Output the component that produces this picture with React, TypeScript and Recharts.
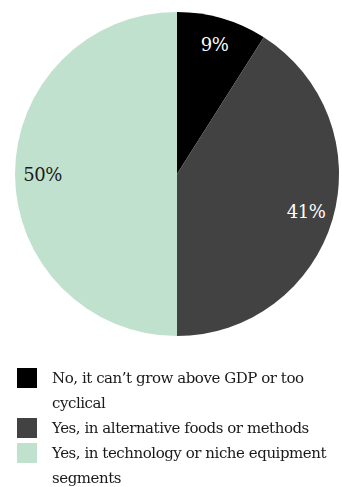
import React from 'react';
import { PieChart, Pie, Cell, Legend } from 'recharts';

const categories = [
  'No, it can\u2019t grow above GDP or too cyclical',
  'Yes, in alternative foods or methods',
  'Yes, in technology or niche equipment segments',
];
const shares = [9, 41, 50];
const colors = ['#000000', '#424242', '#c1e1cf'];
const labelColors = ['#ffffff', '#ffffff', '#1a1a1a'];

const data = categories.map((name, i) => ({ name, value: shares[i] }));

const FONT = "'DejaVu Serif'";
const RAD = Math.PI / 180;

const renderLabel = (props: any) => {
  const { cx, cy, midAngle, outerRadius, value, index } = props;
  const r = outerRadius * 0.83;
  const x = cx + r * Math.cos(-midAngle * RAD);
  const y = cy + r * Math.sin(-midAngle * RAD);
  return (
    <text
      x={x}
      y={y}
      fill={labelColors[index]}
      textAnchor="middle"
      dominantBaseline="central"
      style={{ fontFamily: FONT, fontSize: 18, letterSpacing: -0.5 }}
    >
      {`${value}%`}
    </text>
  );
};

const LegendList = () => (
  <div
    style={{
      fontFamily: FONT,
      fontSize: 15,
      letterSpacing: -0.45,
      lineHeight: '25px',
      color: '#1a1a1a',
    }}
  >
    {categories.map((c, i) => (
      <div key={c} style={{ display: 'flex', alignItems: 'flex-start' }}>
        <span
          style={{
            width: 20,
            height: 20,
            background: colors[i],
            flex: '0 0 20px',
            marginTop: 2,
            marginLeft: 17,
            marginRight: 15,
          }}
        />
        <span style={{ width: 285 }}>{c}</span>
      </div>
    ))}
  </div>
);

export default function App() {
  return (
    <div style={{ position: 'fixed', top: 0, left: 0, background: '#fff', fontFamily: FONT }}>
      <PieChart width={342} height={487} margin={{ top: 0, right: 0, bottom: 0, left: 0 }}>
        <Pie
          data={data}
          dataKey="value"
          nameKey="name"
          cx={177}
          cy={174}
          outerRadius={162}
          startAngle={90}
          endAngle={-270}
          stroke="none"
          labelLine={false}
          label={renderLabel}
          isAnimationActive={false}
        >
          {data.map((d, i) => (
            <Cell key={d.name} fill={colors[i]} />
          ))}
        </Pie>
        <Legend
          content={() => <LegendList />}
          wrapperStyle={{ top: 366, left: 0, width: 342 }}
        />
      </PieChart>
    </div>
  );
}
